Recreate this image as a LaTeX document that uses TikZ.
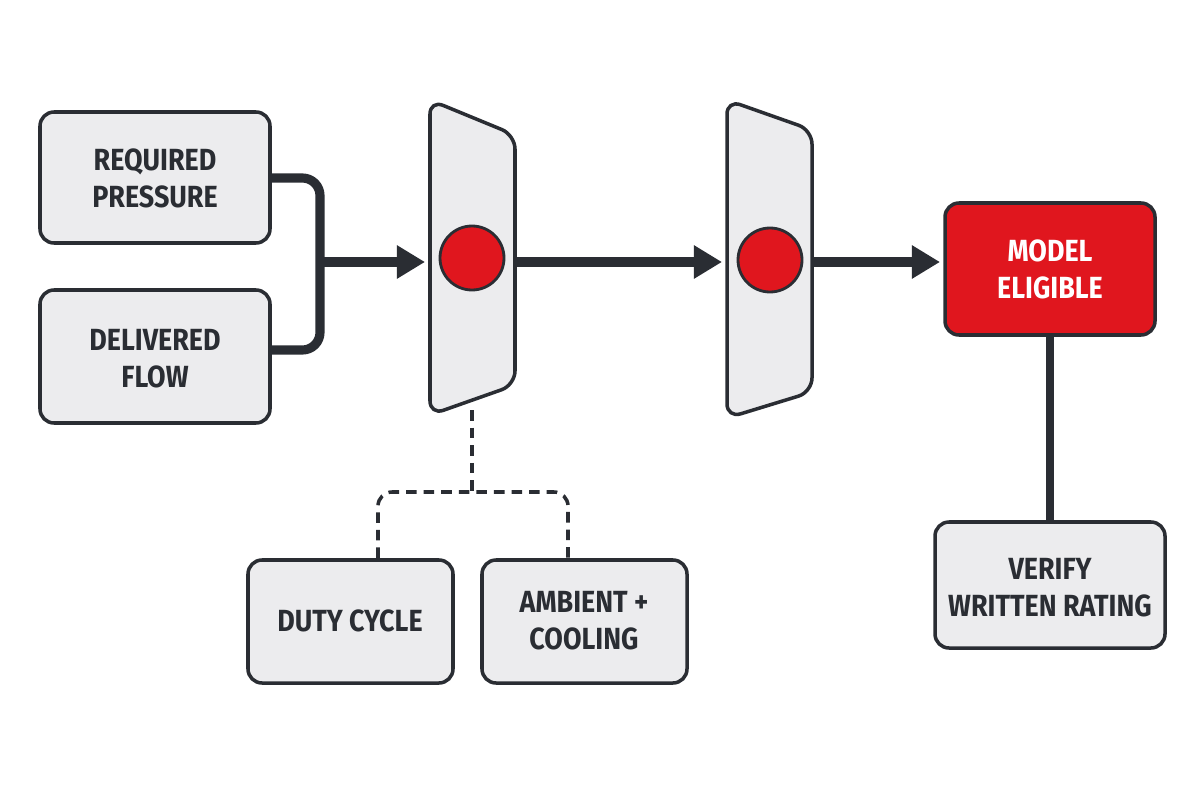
\documentclass[tikz,border=0pt]{standalone}
\usepackage{fontspec}
\setmainfont{Fira Sans}[FakeStretch=0.88]
\usetikzlibrary{arrows.meta}
\definecolor{ink}{HTML}{2A2D33}
\definecolor{boxfill}{HTML}{ECECEE}
\definecolor{red1}{HTML}{E0161E}
\begin{document}
\begin{tikzpicture}[x=0.01cm,y=-0.01cm,
  box/.style={draw=ink,line width=1pt,fill=boxfill,rounded corners=4pt},
  lbl/.style={font=\fontsize{8.7}{10.5}\selectfont\bfseries,text=ink,align=center},
  flow/.style={draw=ink,line width=2.6pt,-{Triangle[length=8pt,width=9pt]}},
  link/.style={draw=ink,line width=2.6pt,rounded corners=5pt},
  dashlink/.style={draw=ink,line width=1pt,dash pattern=on 3pt off 2pt,rounded corners=4pt}]
\useasboundingbox[fill=white] (0,0) rectangle (1200,800);
% input boxes
\draw[box] (40,112) rectangle (270,243); \node[lbl] (req) at (155,178) {REQUIRED\\PRESSURE};
\draw[box] (40,290) rectangle (270,423); \node[lbl] (del) at (155,359) {DELIVERED\\FLOW};
\coordinate (r1) at (270,178); \coordinate (r2) at (270,350); \coordinate (j) at (320,262);
\draw[link] (r1) -- (320,178) -- (320,350) -- (r2);
% trapezoids
\draw[box,fill=boxfill] (430,100) -- (515,135) -- (515,385) -- (430,415) -- cycle;
\fill[red1,draw=ink,line width=0.8pt] (472,258) circle (32);
\node (t1) at (472,258) {};
\draw[box,fill=boxfill] (727,100) -- (812,130) -- (812,392) -- (727,418) -- cycle;
\fill[red1,draw=ink,line width=0.8pt] (770,260) circle (32);
\node (t2) at (770,260) {};
\coordinate (t1l) at (425,262); \coordinate (t1r) at (515,262);
\coordinate (t2l) at (722,262); \coordinate (t2r) at (812,262);
\draw[flow] (318,262) -- (t1l);
\draw[flow] (t1r) -- (t2l);
% output
\draw[box,fill=red1] (945,203) rectangle (1155,335);
\node[lbl,text=white] (me) at (1050,269) {MODEL\\ELIGIBLE};
\draw[flow] (t2r) -- (940,262);
\draw[box] (935,522) rectangle (1165,648);
\node[lbl] (ver) at (1050,588) {VERIFY\\WRITTEN RATING};
\draw[draw=ink,line width=2pt] (1050,335) -- (1050,522);
% dashed
\draw[box] (248,560) rectangle (453,683); \node[lbl] (duty) at (350,621) {DUTY CYCLE};
\draw[box] (482,560) rectangle (687,683); \node[lbl] (amb) at (584,621) {AMBIENT +\\COOLING};
\draw[dashlink] (472,410) -- (472,492);
\draw[dashlink] (378,558) -- (378,492) -- (568,492) -- (568,558);
\end{tikzpicture}
\end{document}
